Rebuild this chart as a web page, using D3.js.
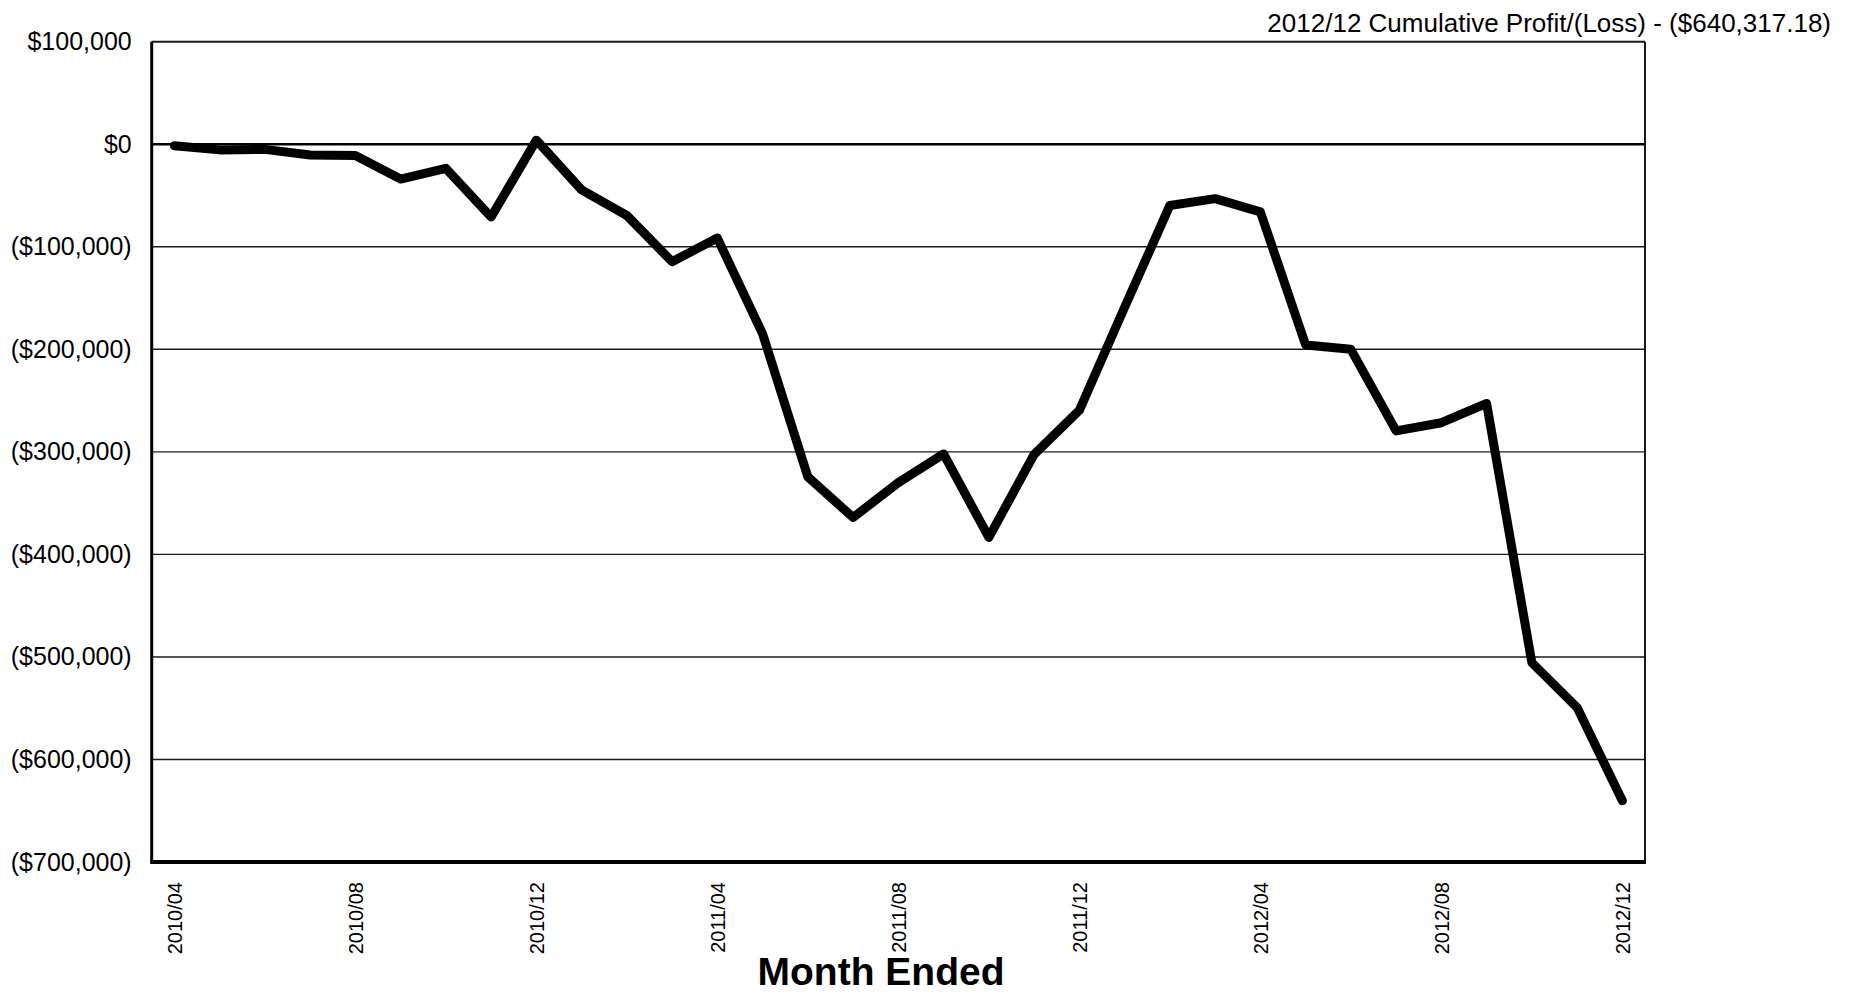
<!DOCTYPE html>
<html>
<head>
<meta charset="utf-8">
<script src="https://cdn.jsdelivr.net/npm/d3@7"></script>
<style>
  html, body { margin: 0; padding: 0; background: #fff; }
  svg { display: block; font-family: "Liberation Sans", Arial, sans-serif; }
</style>
</head>
<body>
<svg id="chart" width="1858" height="992"></svg>
<script>
// month ended, one point per month
var months = [
  "2010/04", "2010/05", "2010/06", "2010/07", "2010/08", "2010/09", "2010/10", "2010/11", "2010/12",
  "2011/01", "2011/02", "2011/03", "2011/04", "2011/05", "2011/06", "2011/07", "2011/08", "2011/09",
  "2011/10", "2011/11", "2011/12", "2012/01", "2012/02", "2012/03", "2012/04", "2012/05", "2012/06",
  "2012/07", "2012/08", "2012/09", "2012/10", "2012/11", "2012/12"
];
// cumulative profit/(loss)
var cumulative = [
  -1500, -5500, -5000, -10500, -11000, -34000, -23500, -71000, 4000,
  -44500, -69500, -114500, -91500, -185000, -324500, -364000, -330000, -302000,
  -383500, -302500, -259500, -159000, -59700, -53000, -66000, -195700, -200000,
  -279600, -271600, -252800, -505600, -549400, -640317.18
];
var xTickLabels = ["2010/04", "2010/08", "2010/12", "2011/04", "2011/08", "2011/12", "2012/04", "2012/08", "2012/12"];
var yTicks = [100000, 0, -100000, -200000, -300000, -400000, -500000, -600000, -700000];
var titleText = "2012/12 Cumulative Profit/(Loss) - ($640,317.18)";
var xAxisTitle = "Month Ended";

// plot box (window.top is taken, so own names)
var plotLeft = 151.7, plotRight = 1645, plotTop = 41.7, plotBottom = 862;

var svg = d3.select("#chart");

var x = d3.scalePoint().domain(months).range([plotLeft, plotRight]).padding(0.5);
var y = d3.scaleLinear().domain([-700000, 100000]).range([plotBottom, plotTop]);

var money = d3.format(",.0f");
function fmt(v) {
  if (v === 0) return "$0";
  return v < 0 ? "($" + money(-v) + ")" : "$" + money(v);
}

// grid lines + top border
svg.append("g").selectAll("line")
  .data(yTicks.filter(function (d) { return d !== 0 && d !== -700000; }))
  .enter().append("line")
  .attr("x1", plotLeft).attr("x2", plotRight)
  .attr("y1", function (d) { return y(d); })
  .attr("y2", function (d) { return y(d); })
  .attr("stroke", "#1a1a1a")
  .attr("stroke-width", function (d) { return d === 100000 ? 2 : 1.4; });

// right border
svg.append("line")
  .attr("x1", plotRight).attr("x2", plotRight)
  .attr("y1", plotTop).attr("y2", plotBottom)
  .attr("stroke", "#000").attr("stroke-width", 1.8);

// zero line
svg.append("line")
  .attr("x1", plotLeft).attr("x2", plotRight)
  .attr("y1", y(0)).attr("y2", y(0))
  .attr("stroke", "#000").attr("stroke-width", 2.7);

// y axis labels
var yAxis = svg.append("g")
  .attr("transform", "translate(" + plotLeft + ",0)")
  .call(d3.axisLeft(y).tickValues(yTicks).tickFormat(fmt).tickSize(0).tickPadding(20));
yAxis.select(".domain").remove();
yAxis.selectAll("text")
  .attr("font-size", 25)
  .attr("font-family", "Liberation Sans, Arial, sans-serif")
  .attr("fill", "#000");

// left axis line
svg.append("line")
  .attr("x1", plotLeft).attr("x2", plotLeft)
  .attr("y1", plotTop).attr("y2", plotBottom)
  .attr("stroke", "#000").attr("stroke-width", 3);

// bottom axis line
svg.append("line")
  .attr("x1", plotLeft - 1.5).attr("x2", plotRight + 1)
  .attr("y1", plotBottom).attr("y2", plotBottom)
  .attr("stroke", "#000").attr("stroke-width", 4);

// x axis labels (rotated)
var xAxis = svg.append("g")
  .attr("transform", "translate(0," + plotBottom + ")")
  .call(d3.axisBottom(x).tickValues(xTickLabels).tickSize(0).tickPadding(0));
xAxis.select(".domain").remove();
xAxis.selectAll("text")
  .attr("font-size", 20)
  .attr("font-family", "Liberation Sans, Arial, sans-serif")
  .attr("fill", "#000")
  .attr("text-anchor", "end")
  .attr("transform", "rotate(-90)")
  .attr("x", -20)
  .attr("y", 0)
  .attr("dy", "0.35em");

// the series
var line = d3.line()
  .x(function (d, i) { return x(months[i]); })
  .y(function (d) { return y(d); });

svg.append("path")
  .datum(cumulative)
  .attr("d", line)
  .attr("fill", "none")
  .attr("stroke", "#000")
  .attr("stroke-width", 9)
  .attr("stroke-linejoin", "round")
  .attr("stroke-linecap", "round");

// titles
svg.append("text")
  .attr("x", 1831).attr("y", 32)
  .attr("text-anchor", "end")
  .attr("font-size", 26)
  .attr("fill", "#000")
  .text(titleText);

svg.append("text")
  .attr("x", 881).attr("y", 985)
  .attr("text-anchor", "middle")
  .attr("font-size", 39)
  .attr("font-weight", "bold")
  .attr("fill", "#000")
  .text(xAxisTitle);
</script>
</body>
</html>
